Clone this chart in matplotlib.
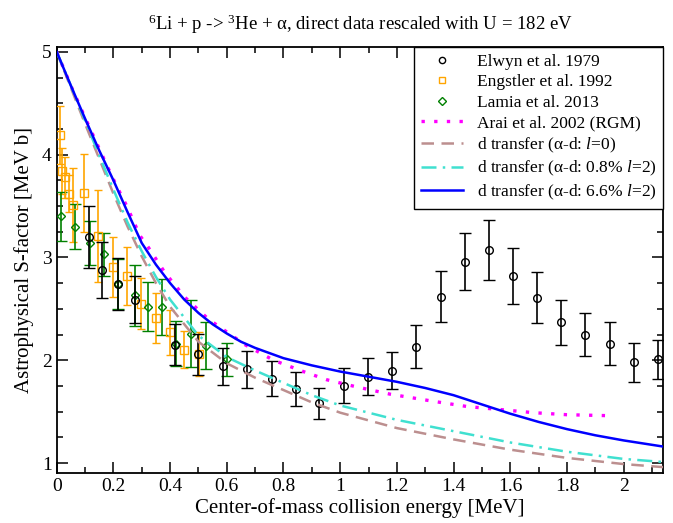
import matplotlib
matplotlib.use("Agg")
import matplotlib.pyplot as plt
from matplotlib.ticker import MultipleLocator
from matplotlib.lines import Line2D

plt.rcParams['font.family'] = ['Liberation Serif', 'DejaVu Serif']
plt.rcParams['mathtext.fontset'] = 'custom'
plt.rcParams['mathtext.rm'] = 'Liberation Serif'
plt.rcParams['mathtext.it'] = 'Liberation Serif:italic'

# Elwyn et al. 1979
elwyn_e = [0.115, 0.159, 0.217, 0.276, 0.418, 0.500, 0.586, 0.673, 0.759, 0.845, 0.926,
           1.012, 1.098, 1.184, 1.268, 1.354, 1.441, 1.525, 1.611, 1.695, 1.780, 1.865,
           1.951, 2.038, 2.120]
elwyn_s = [3.20, 2.88, 2.74, 2.59, 2.15, 2.06, 1.94, 1.91, 1.82, 1.72, 1.58,
           1.75, 1.84, 1.90, 2.13, 2.62, 2.96, 3.07, 2.82, 2.61, 2.37, 2.25,
           2.16, 1.98, 2.01]
elwyn_err = [0.30, 0.27, 0.25, 0.23, 0.20, 0.20, 0.18, 0.18, 0.17, 0.17, 0.15,
             0.17, 0.18, 0.18, 0.21, 0.25, 0.28, 0.29, 0.27, 0.25, 0.22, 0.21,
             0.21, 0.19, 0.19]

# Engstler et al. 1992
eng_e = [0.011, 0.019, 0.028, 0.043, 0.058, 0.095, 0.146, 0.198, 0.248, 0.298,
         0.349, 0.400, 0.450, 0.502]
eng_s = [4.19, 3.84, 3.78, 3.62, 3.51, 3.63, 3.21, 2.91, 2.82, 2.55,
         2.41, 2.27, 2.10, 2.06]
eng_err = [0.28, 0.22, 0.20, 0.18, 0.36, 0.38, 0.45, 0.29, 0.28, 0.25,
           0.24, 0.22, 0.18, 0.21]

# Lamia et al. 2013
lam_e = [0.014, 0.065, 0.117, 0.165, 0.217, 0.276, 0.321, 0.372, 0.421, 0.473, 0.525, 0.600]
lam_s = [3.40, 3.30, 3.14, 3.03, 2.74, 2.63, 2.52, 2.52, 2.16, 2.26, 2.14, 2.01]
lam_err = [0.24, 0.22, 0.21, 0.21, 0.24, 0.30, 0.24, 0.27, 0.22, 0.33, 0.23, 0.16]

# Arai et al. 2002 (RGM)
arai_e = [0.0, 0.05, 0.10, 0.176, 0.212, 0.247, 0.294, 0.318, 0.382, 0.453, 0.535, 0.665,
          0.765, 0.870, 0.953, 1.059, 1.176, 1.330, 1.447, 1.565, 1.682, 1.800, 1.960]
arai_s = [5.0, 4.67, 4.36, 3.90, 3.69, 3.50, 3.21, 3.12, 2.85, 2.61, 2.40, 2.15,
          2.00, 1.89, 1.81, 1.74, 1.67, 1.60, 1.55, 1.52, 1.49, 1.47, 1.46]

# d transfer curves
curve_e = [0.0, 0.05, 0.10, 0.15, 0.20, 0.25, 0.30, 0.35, 0.40, 0.50, 0.60, 0.70,
           0.80, 0.90, 1.00, 1.20, 1.40, 1.60, 1.80, 2.00, 2.14]
l0_s = [5.0, 4.65, 4.30, 3.96, 3.62, 3.30, 3.01, 2.75, 2.52, 2.18, 1.97, 1.83,
        1.71, 1.59, 1.49, 1.34, 1.23, 1.13, 1.05, 0.99, 0.96]
l2a_s = [5.0, 4.67, 4.33, 3.99, 3.66, 3.34, 3.06, 2.81, 2.59, 2.24, 2.03, 1.90,
         1.78, 1.66, 1.56, 1.42, 1.31, 1.20, 1.11, 1.04, 1.01]
blue_e = [0.0, 0.05, 0.10, 0.15, 0.20, 0.25, 0.30, 0.35, 0.40, 0.45, 0.50, 0.55, 0.60,
          0.65, 0.70, 0.80, 0.90, 1.00, 1.10, 1.20, 1.30, 1.40, 1.50, 1.60, 1.70,
          1.80, 1.90, 2.00, 2.14]
blue_s = [5.0, 4.67, 4.35, 4.04, 3.75, 3.44, 3.14, 2.93, 2.75, 2.59, 2.46, 2.35, 2.26,
          2.18, 2.12, 2.02, 1.95, 1.89, 1.84, 1.79, 1.73, 1.66, 1.57, 1.48, 1.40,
          1.33, 1.27, 1.22, 1.16]

labels = ['Elwyn et al. 1979', 'Engstler et al. 1992', 'Lamia et al. 2013',
          'Arai et al. 2002 (RGM)', r'd transfer ($\mathrm{\alpha}$-d: $l$=0)',
          r'd transfer ($\mathrm{\alpha}$-d: 0.8% $l$=2)',
          r'd transfer ($\mathrm{\alpha}$-d: 6.6% $l$=2)']

fig = plt.figure(figsize=(6.73, 5.23), dpi=100)
ax = fig.add_axes([0.0843, 0.095, 0.9013, 0.8157])

ax.errorbar(elwyn_e, elwyn_s, yerr=elwyn_err, fmt='o', color='black', mfc='none',
            ms=5.5, mew=1.0, elinewidth=1.2, capsize=4.5, capthick=1.2, zorder=5)
ax.errorbar(eng_e, eng_s, yerr=eng_err, fmt='s', color='orange', mfc='none',
            ms=5.5, mew=1.0, elinewidth=1.2, capsize=3, capthick=1.2, zorder=4)
ax.errorbar(lam_e, lam_s, yerr=lam_err, fmt='D', color='green', mfc='none',
            ms=4.5, mew=1.0, elinewidth=1.2, capsize=4.5, capthick=1.2, zorder=4)

arai_ls = (0, (1, 2.8))
l0_ls = (0, (5, 3))
l2a_ls = (0, (6, 2.5, 1, 2.5))
ax.plot(arai_e, arai_s, color='magenta', lw=2.4, ls=arai_ls, zorder=6)
ax.plot(curve_e, l0_s, color='rosybrown', lw=1.8, ls=l0_ls, zorder=6)
ax.plot(curve_e, l2a_s, color='turquoise', lw=1.8, ls=l2a_ls, zorder=6)
ax.plot(blue_e, blue_s, color='blue', lw=1.8, zorder=7)

handles = [
    Line2D([], [], ls='none', marker='o', mfc='none', mec='black', ms=4.5, mew=1.0),
    Line2D([], [], ls='none', marker='s', mfc='none', mec='orange', ms=4.5, mew=1.0),
    Line2D([], [], ls='none', marker='D', mfc='none', mec='green', ms=4, mew=1.0),
    Line2D([], [], color='magenta', lw=2.4, ls=arai_ls),
    Line2D([], [], color='rosybrown', lw=1.8, ls=l0_ls),
    Line2D([], [], color='turquoise', lw=1.8, ls=l2a_ls),
    Line2D([], [], color='blue', lw=1.8),
]

ax.set_xlim(0, 2.14)
ax.set_ylim(0.9, 5.05)
ax.xaxis.set_minor_locator(MultipleLocator(0.1))
ax.yaxis.set_major_locator(MultipleLocator(1))
ax.yaxis.set_minor_locator(MultipleLocator(0.25))
ax.set_xticks([0, 0.2, 0.4, 0.6, 0.8, 1, 1.2, 1.4, 1.6, 1.8, 2])
ax.set_xticklabels(['0', '0.2', '0.4', '0.6', '0.8', '1', '1.2', '1.4', '1.6', '1.8', '2'])
ax.tick_params(which='both', direction='in', top=True, right=True, labelsize=14, width=1.1)
ax.tick_params(which='major', length=8)
ax.tick_params(which='minor', length=4)
for sp in ax.spines.values():
    sp.set_linewidth(1.3)

ax.set_xlabel('Center-of-mass collision energy [MeV]', fontsize=15, labelpad=2)
ax.set_ylabel('Astrophysical S-factor [MeV b]', fontsize=15, labelpad=6)
ax.set_title(r'$^{6}$Li + p -> $^{3}$He + $\mathrm{\alpha}$, direct data rescaled with U = 182 eV',
             fontsize=13.5, pad=12)

leg = ax.legend(handles, labels, loc='upper right', borderaxespad=0, fontsize=12.5,
                frameon=True, fancybox=False, framealpha=1, edgecolor='black',
                labelspacing=0.25, handlelength=2.4, handletextpad=0.8, borderpad=0.4)
leg.get_frame().set_linewidth(1.0)
leg.set_zorder(10)

fig.savefig('out.png', dpi=100)
